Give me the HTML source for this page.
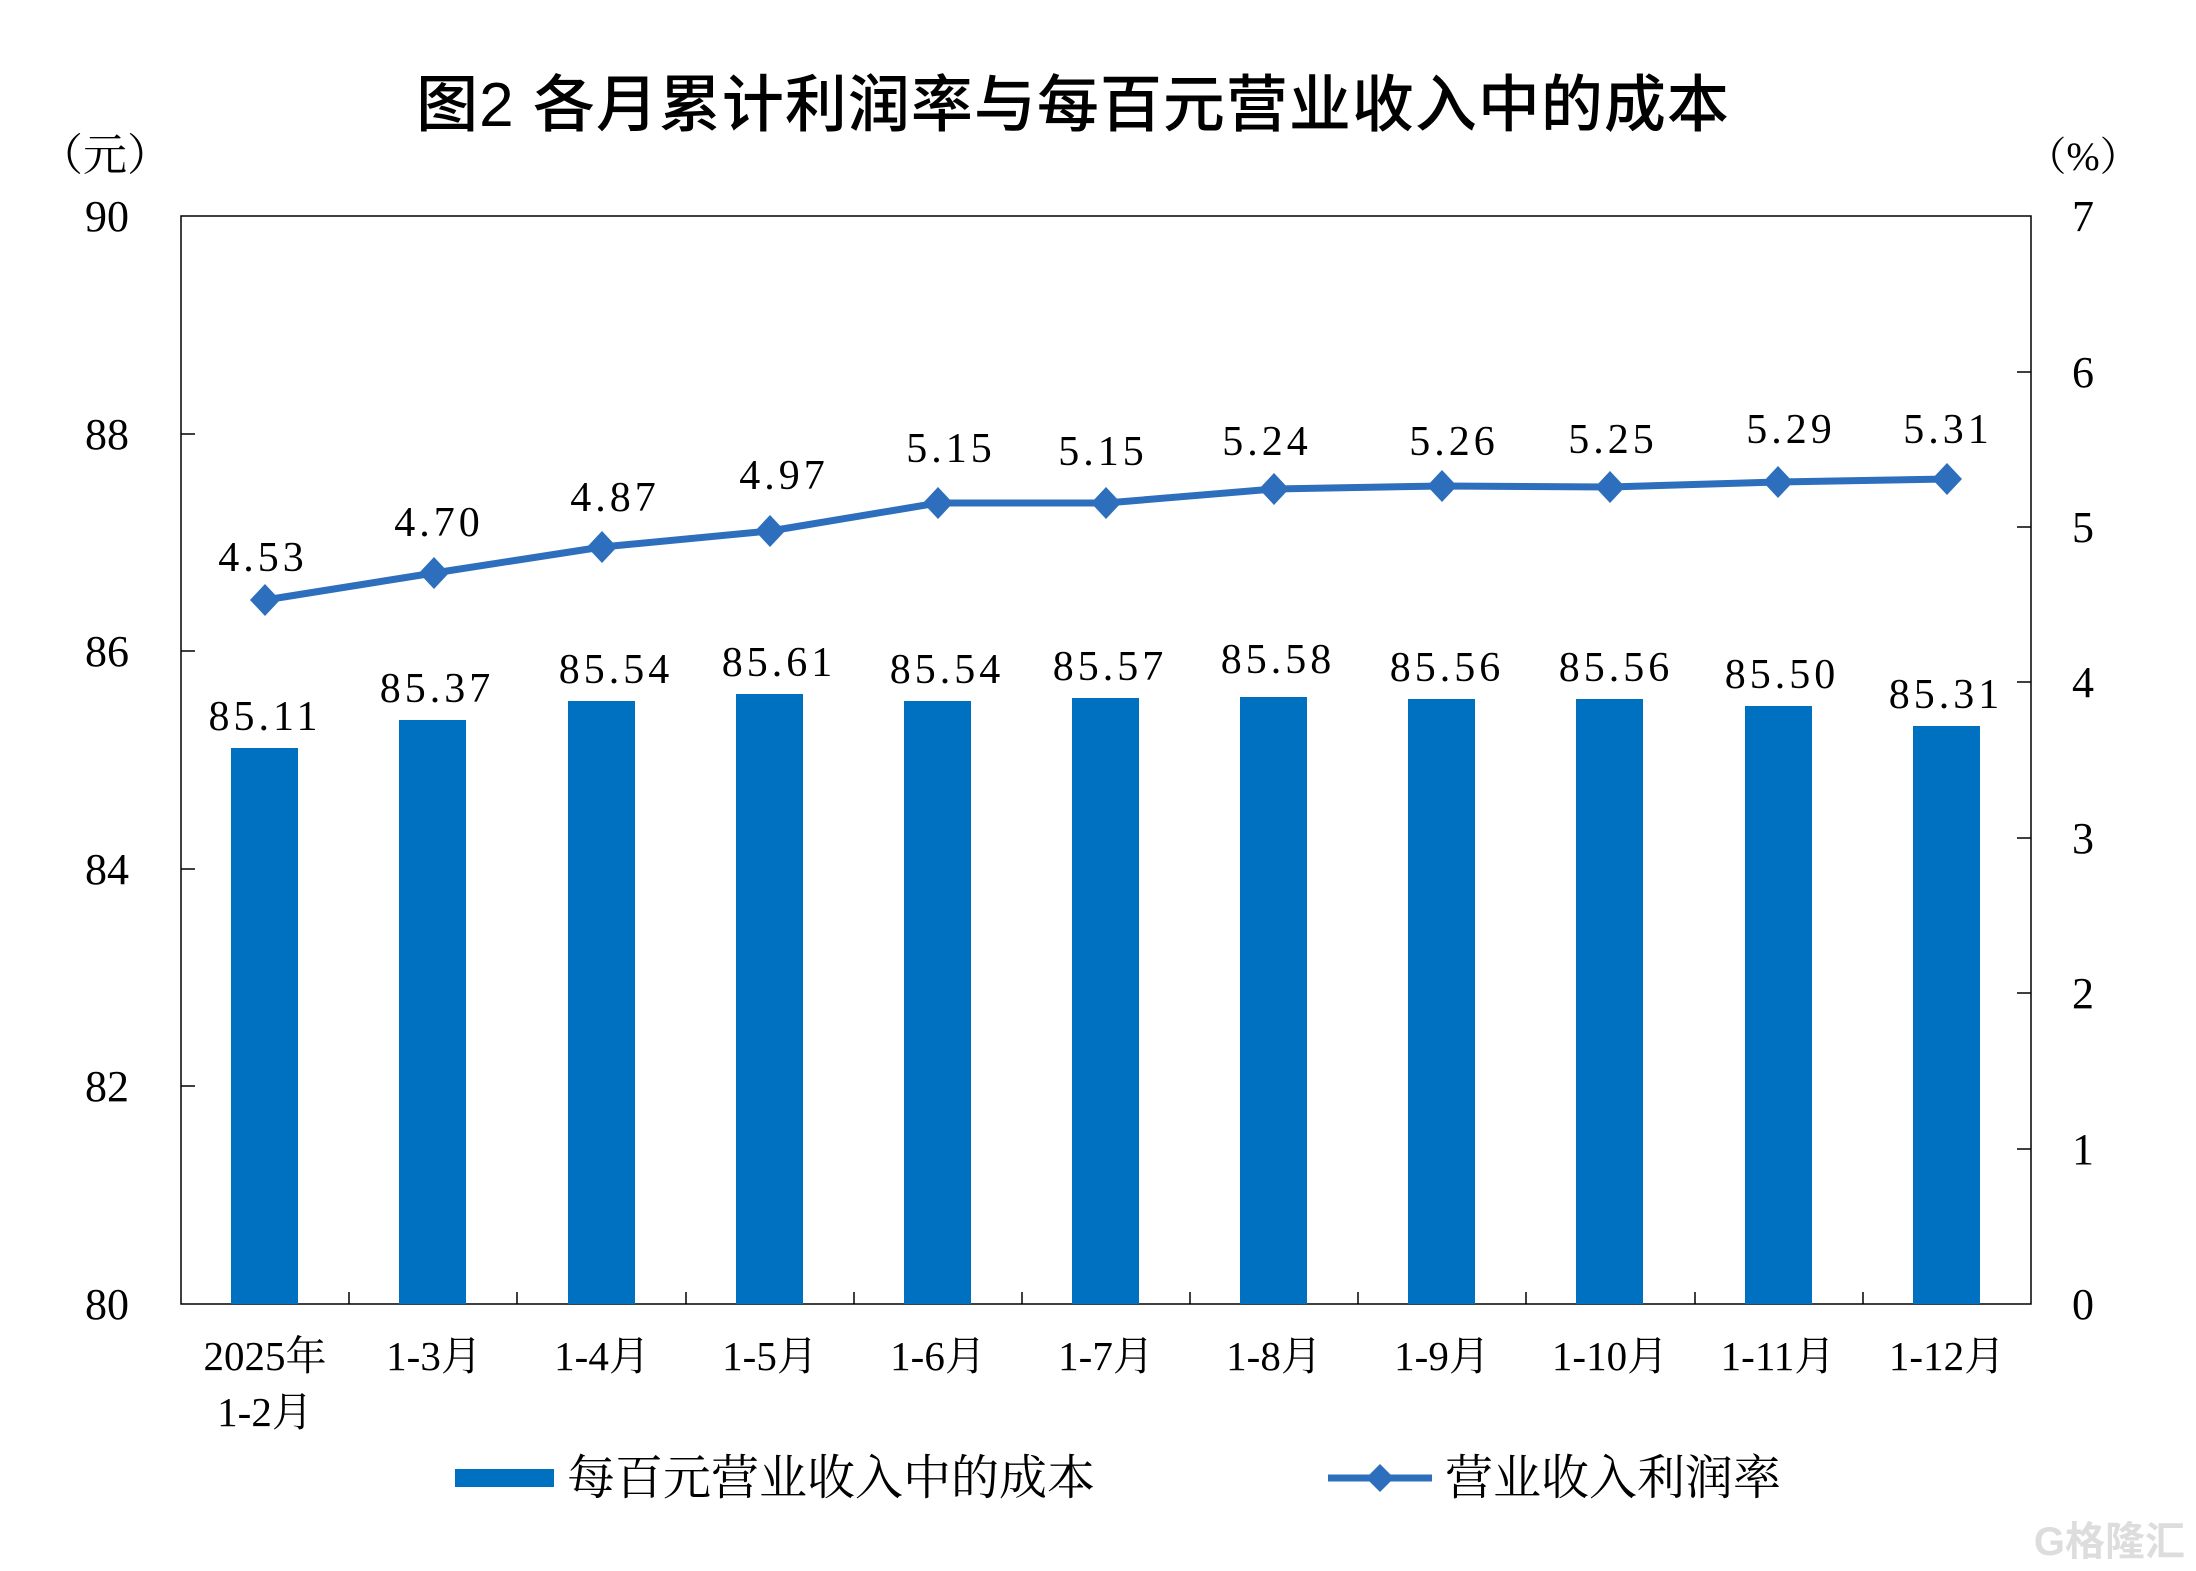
<!DOCTYPE html>
<html><head><meta charset="utf-8"><style>
html,body{margin:0;padding:0;background:#fff}
svg{display:block}
text{font-family:"Liberation Serif","Noto Serif CJK SC",serif;fill:#000}
</style></head><body>
<svg width="2196" height="1571" viewBox="0 0 2196 1571" xmlns="http://www.w3.org/2000/svg">
<text x="1073" y="126" text-anchor="middle" font-size="62" font-weight="500" letter-spacing="1" style="font-family:'Liberation Sans','Noto Sans CJK SC',sans-serif">图2  各月累计利润率与每百元营业收入中的成本</text>
<text x="105" y="170" text-anchor="middle" font-size="44">（元）</text>
<text x="2083" y="170" text-anchor="middle" font-size="40">（%）</text>
<rect x="181" y="216" width="1850" height="1088" fill="none" stroke="#000" stroke-width="1.5"/>
<g font-size="44" text-anchor="end">
<text x="129" y="231">90</text><text x="129" y="449">88</text><text x="129" y="666">86</text>
<text x="129" y="884">84</text><text x="129" y="1101">82</text><text x="129" y="1319">80</text>
</g>
<g stroke="#000" stroke-width="1.5">
<line x1="181" y1="434" x2="195" y2="434"/><line x1="181" y1="651" x2="195" y2="651"/>
<line x1="181" y1="869" x2="195" y2="869"/><line x1="181" y1="1086" x2="195" y2="1086"/>
<line x1="2017" y1="372" x2="2031" y2="372"/><line x1="2017" y1="527" x2="2031" y2="527"/>
<line x1="2017" y1="682" x2="2031" y2="682"/><line x1="2017" y1="838" x2="2031" y2="838"/>
<line x1="2017" y1="993" x2="2031" y2="993"/><line x1="2017" y1="1149" x2="2031" y2="1149"/>
</g>
<g font-size="44" text-anchor="middle">
<text x="2083" y="231">7</text><text x="2083" y="387">6</text><text x="2083" y="542">5</text>
<text x="2083" y="697">4</text><text x="2083" y="853">3</text><text x="2083" y="1008">2</text>
<text x="2083" y="1164">1</text><text x="2083" y="1319">0</text>
</g>
<g fill="#0070C0">
<rect x="231" y="748" width="67" height="556"/>
<rect x="399" y="720" width="67" height="584"/>
<rect x="568" y="701" width="67" height="603"/>
<rect x="736" y="694" width="67" height="610"/>
<rect x="904" y="701" width="67" height="603"/>
<rect x="1072" y="698" width="67" height="606"/>
<rect x="1240" y="697" width="67" height="607"/>
<rect x="1408" y="699" width="67" height="605"/>
<rect x="1576" y="699" width="67" height="605"/>
<rect x="1745" y="706" width="67" height="598"/>
<rect x="1913" y="726" width="67" height="578"/>
</g>
<g stroke="#000" stroke-width="1.5">
<line x1="349" y1="1292" x2="349" y2="1304"/><line x1="517" y1="1292" x2="517" y2="1304"/>
<line x1="686" y1="1292" x2="686" y2="1304"/><line x1="854" y1="1292" x2="854" y2="1304"/>
<line x1="1022" y1="1292" x2="1022" y2="1304"/><line x1="1190" y1="1292" x2="1190" y2="1304"/>
<line x1="1358" y1="1292" x2="1358" y2="1304"/><line x1="1526" y1="1292" x2="1526" y2="1304"/>
<line x1="1695" y1="1292" x2="1695" y2="1304"/><line x1="1863" y1="1292" x2="1863" y2="1304"/>
</g>
<g font-size="42" text-anchor="middle" letter-spacing="4">
<text x="265" y="730">85.11</text><text x="437" y="702">85.37</text><text x="616" y="683">85.54</text>
<text x="779" y="676">85.61</text><text x="947" y="683">85.54</text><text x="1110" y="680">85.57</text>
<text x="1278" y="673">85.58</text><text x="1447" y="681">85.56</text><text x="1616" y="681">85.56</text>
<text x="1782" y="688">85.50</text><text x="1946" y="708">85.31</text>
</g>
<polyline fill="none" stroke="#2E6FBD" stroke-width="7" stroke-linejoin="round"
points="265,600 434,573 602,547 770,531 938,503 1106,503 1274,489 1442,486 1610,487 1778,482 1947,479"/>
<g fill="#2E6FBD">
<path d="M265,584 L280,600 L265,616 L250,600Z"/><path d="M434,557 L449,573 L434,589 L419,573Z"/>
<path d="M602,531 L617,547 L602,563 L587,547Z"/><path d="M770,515 L785,531 L770,547 L755,531Z"/>
<path d="M938,487 L953,503 L938,519 L923,503Z"/><path d="M1106,487 L1121,503 L1106,519 L1091,503Z"/>
<path d="M1274,473 L1289,489 L1274,505 L1259,489Z"/><path d="M1442,470 L1457,486 L1442,502 L1427,486Z"/>
<path d="M1610,471 L1625,487 L1610,503 L1595,487Z"/><path d="M1778,466 L1793,482 L1778,498 L1763,482Z"/>
<path d="M1947,463 L1962,479 L1947,495 L1932,479Z"/>
</g>
<g font-size="42" text-anchor="middle" letter-spacing="4">
<text x="263" y="571">4.53</text><text x="439" y="536">4.70</text><text x="615" y="511">4.87</text>
<text x="784" y="489">4.97</text><text x="951" y="462">5.15</text><text x="1103" y="465">5.15</text>
<text x="1267" y="455">5.24</text><text x="1454" y="455">5.26</text><text x="1613" y="453">5.25</text>
<text x="1791" y="443">5.29</text><text x="1948" y="443">5.31</text>
</g>
<g font-size="41" text-anchor="middle">
<text x="265" y="1370">2025年</text><text x="265" y="1426">1-2月</text>
<text x="434" y="1370">1-3月</text><text x="602" y="1370">1-4月</text><text x="770" y="1370">1-5月</text>
<text x="938" y="1370">1-6月</text><text x="1106" y="1370">1-7月</text><text x="1274" y="1370">1-8月</text>
<text x="1442" y="1370">1-9月</text><text x="1610" y="1370">1-10月</text><text x="1778" y="1370">1-11月</text>
<text x="1947" y="1370">1-12月</text>
</g>
<rect x="455" y="1469" width="99" height="18" fill="#0070C0"/>
<text x="567" y="1494" font-size="48">每百元营业收入中的成本</text>
<line x1="1328" y1="1478" x2="1432" y2="1478" stroke="#2E6FBD" stroke-width="7"/>
<path d="M1380,1464 L1394,1478 L1380,1492 L1366,1478Z" fill="#2E6FBD"/>
<text x="1445" y="1494" font-size="48">营业收入利润率</text>
<text x="2185" y="1555" text-anchor="end" font-size="40" style="fill:#ddd;font-family:'Liberation Sans','Noto Sans CJK SC',sans-serif;font-weight:bold">G格隆汇</text>
</svg>
</body></html>
